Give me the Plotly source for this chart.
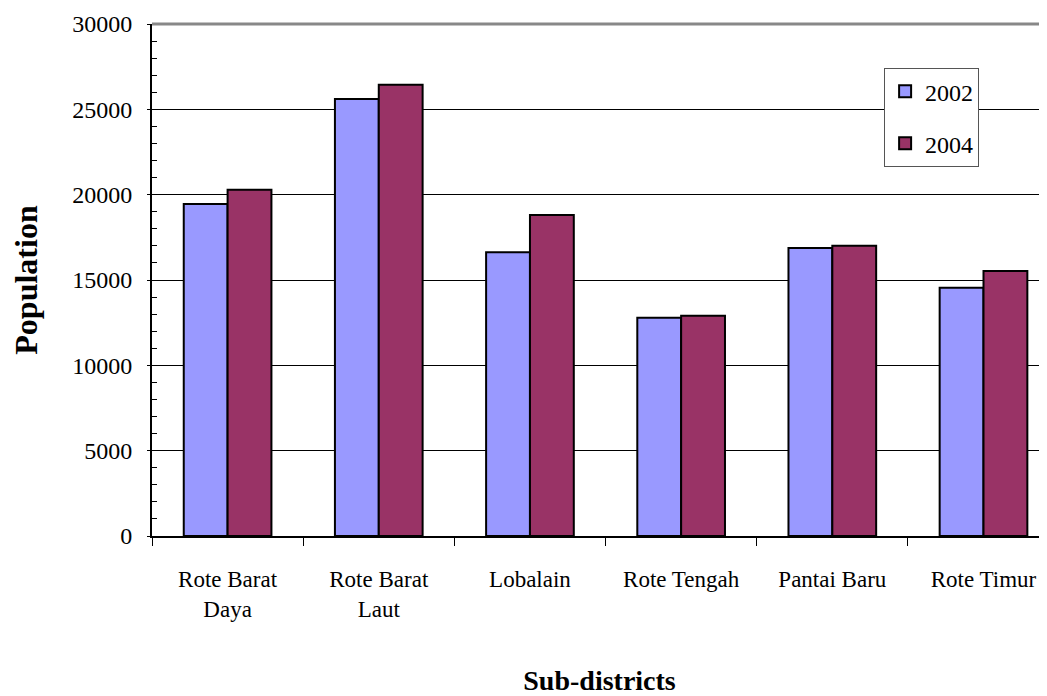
import plotly.graph_objects as go

categories = ["Rote Barat<br>Daya", "Rote Barat<br>Laut", "Lobalain", "Rote Tengah", "Pantai Baru", "Rote Timur"]
pop_2002 = [19450, 25600, 16620, 12790, 16880, 14550]
pop_2004 = [20290, 26440, 18810, 12910, 17010, 15530]
series_names = ["2002", "2004"]
y_ticks = [0, 5000, 10000, 15000, 20000, 25000, 30000]

FONT = "Liberation Serif, Times New Roman, serif"

fig = go.Figure()
fig.add_trace(go.Bar(x=categories, y=pop_2002, name=series_names[0], legendgroup="a",
                     marker=dict(color="#9999FF", line=dict(color="black", width=2))))
fig.add_trace(go.Bar(x=categories, y=pop_2004, name=series_names[1], legendgroup="b",
                     marker=dict(color="#993366", line=dict(color="black", width=2))))

fig.update_layout(
    width=1039, height=688,
    margin=dict(l=144, r=0, t=16, b=160),
    paper_bgcolor="white", plot_bgcolor="white",
    barmode="group", bargap=0.42, bargroupgap=0,
    font=dict(family=FONT, size=24, color="black"),
    legend=dict(x=0.818, y=0.914, xanchor="left", yanchor="top",
                bordercolor="#555555", borderwidth=1, bgcolor="white",
                tracegroupgap=18,
                font=dict(family=FONT, size=24)),
    showlegend=True,
)

fig.update_xaxes(
    range=[-0.5, 5.42], showline=True, linecolor="black", linewidth=2,
    ticks="outside", tickson="boundaries", ticklen=8, tickcolor="black",
    showgrid=False, automargin=False,
    title=dict(text="<b>Sub-districts</b>", font=dict(family=FONT, size=28), standoff=68),
    tickfont=dict(family=FONT, size=23),
    ticklabelstandoff=21,
)
fig.update_yaxes(
    range=[0, 30000], tickvals=y_ticks, tickformat="d", showline=True, linecolor="black", linewidth=2,
    ticks="outside", ticklen=3, tickcolor="black",
    minor=dict(dtick=1000, ticks="inside", ticklen=5, tickcolor="black", showgrid=False),
    showgrid=True, gridcolor="black", gridwidth=1,
    zeroline=False, automargin=False,
    title=dict(text="<b>Population</b>", font=dict(family=FONT, size=32), standoff=44),
    tickfont=dict(family=FONT, size=24),
    ticklabelstandoff=10,
)

fig.add_shape(type="line", xref="paper", yref="paper", x0=0, x1=1, y0=1, y1=1,
              line=dict(color="#888888", width=3))

fig.write_html("out.html")
